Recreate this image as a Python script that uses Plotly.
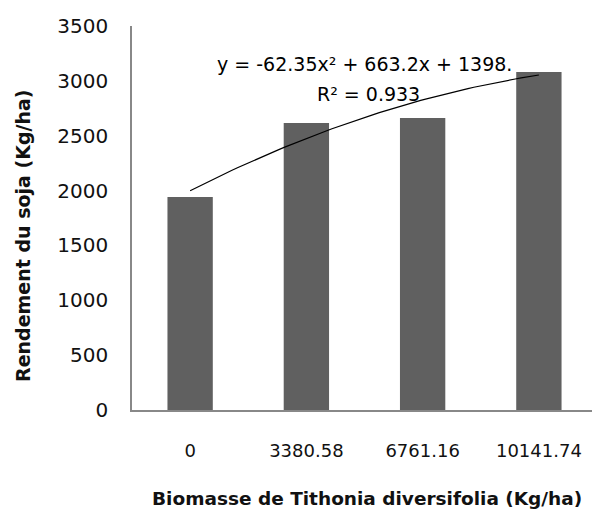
import numpy as np
import plotly.graph_objects as go

categories = ["0", "3380.58", "6761.16", "10141.74"]
yield_values = [1941, 2616, 2662, 3081]
trend_coeffs = [-62.35, 663.2, 1398]  # a*x^2 + b*x + c, x = 1..4
y_ticks = [0, 500, 1000, 1500, 2000, 2500, 3000, 3500]

idx = list(range(len(categories)))
xs = np.linspace(1, len(categories), 60)
trend_y = np.polyval(trend_coeffs, xs)

W, H = 592, 511
# plot area in page px
PL, PR, PT, PB = 132, 592, 26, 410
PW, PH = PR - PL, PB - PT

font_family = "DejaVu Sans"
fig = go.Figure()
fig.add_trace(go.Bar(x=idx, y=yield_values, width=0.39,
                     marker=dict(color="#606060", line=dict(width=0)),
                     showlegend=False))
fig.add_trace(go.Scatter(x=xs - 1, y=trend_y, mode="lines",
                         line=dict(color="black", width=1.2),
                         showlegend=False))


def label(text, px, py, size, angle=0, color="black"):
    fig.add_annotation(text=text, xref="paper", yref="paper",
                       x=(px - PL) / PW, y=(PB - py) / PH, showarrow=False,
                       xanchor="center", yanchor="middle", textangle=angle,
                       font=dict(family=font_family, size=size, color=color))


label("y = -62.35x² + 663.2x + 1398.", 364, 64, 19)
label("R² = 0.933", 368, 94, 19)
label("<b>Biomasse de Tithonia diversifolia (Kg/ha)</b>", 367, 498, 18.5, color="#111111")
label("<b>Rendement du soja (Kg/ha)</b>", 23, 236, 19, angle=-90, color="#111111")

fig.update_layout(
    width=W, height=H,
    margin=dict(l=PL, r=W - PR, t=PT, b=H - PB),
    paper_bgcolor="white", plot_bgcolor="white",
    font=dict(family=font_family, color="black"),
    xaxis=dict(range=[-0.5, 3 + (PR - 539) / 116], tickvals=idx, ticktext=categories,
               showline=True, linecolor="#888888", linewidth=1.5,
               showgrid=False, zeroline=False, ticks="",
               tickfont=dict(size=18, color="#111111"), ticklabelstandoff=24),
    yaxis=dict(range=[0, 3500], tickvals=y_ticks,
               showline=True, linecolor="#888888", linewidth=1.5,
               showgrid=False, zeroline=False, ticks="",
               tickfont=dict(size=20, color="#111111"), ticklabelstandoff=18),
)

fig.write_html("out.html", config={"displayModeBar": False},
               post_script="document.body.style.margin='0';")
